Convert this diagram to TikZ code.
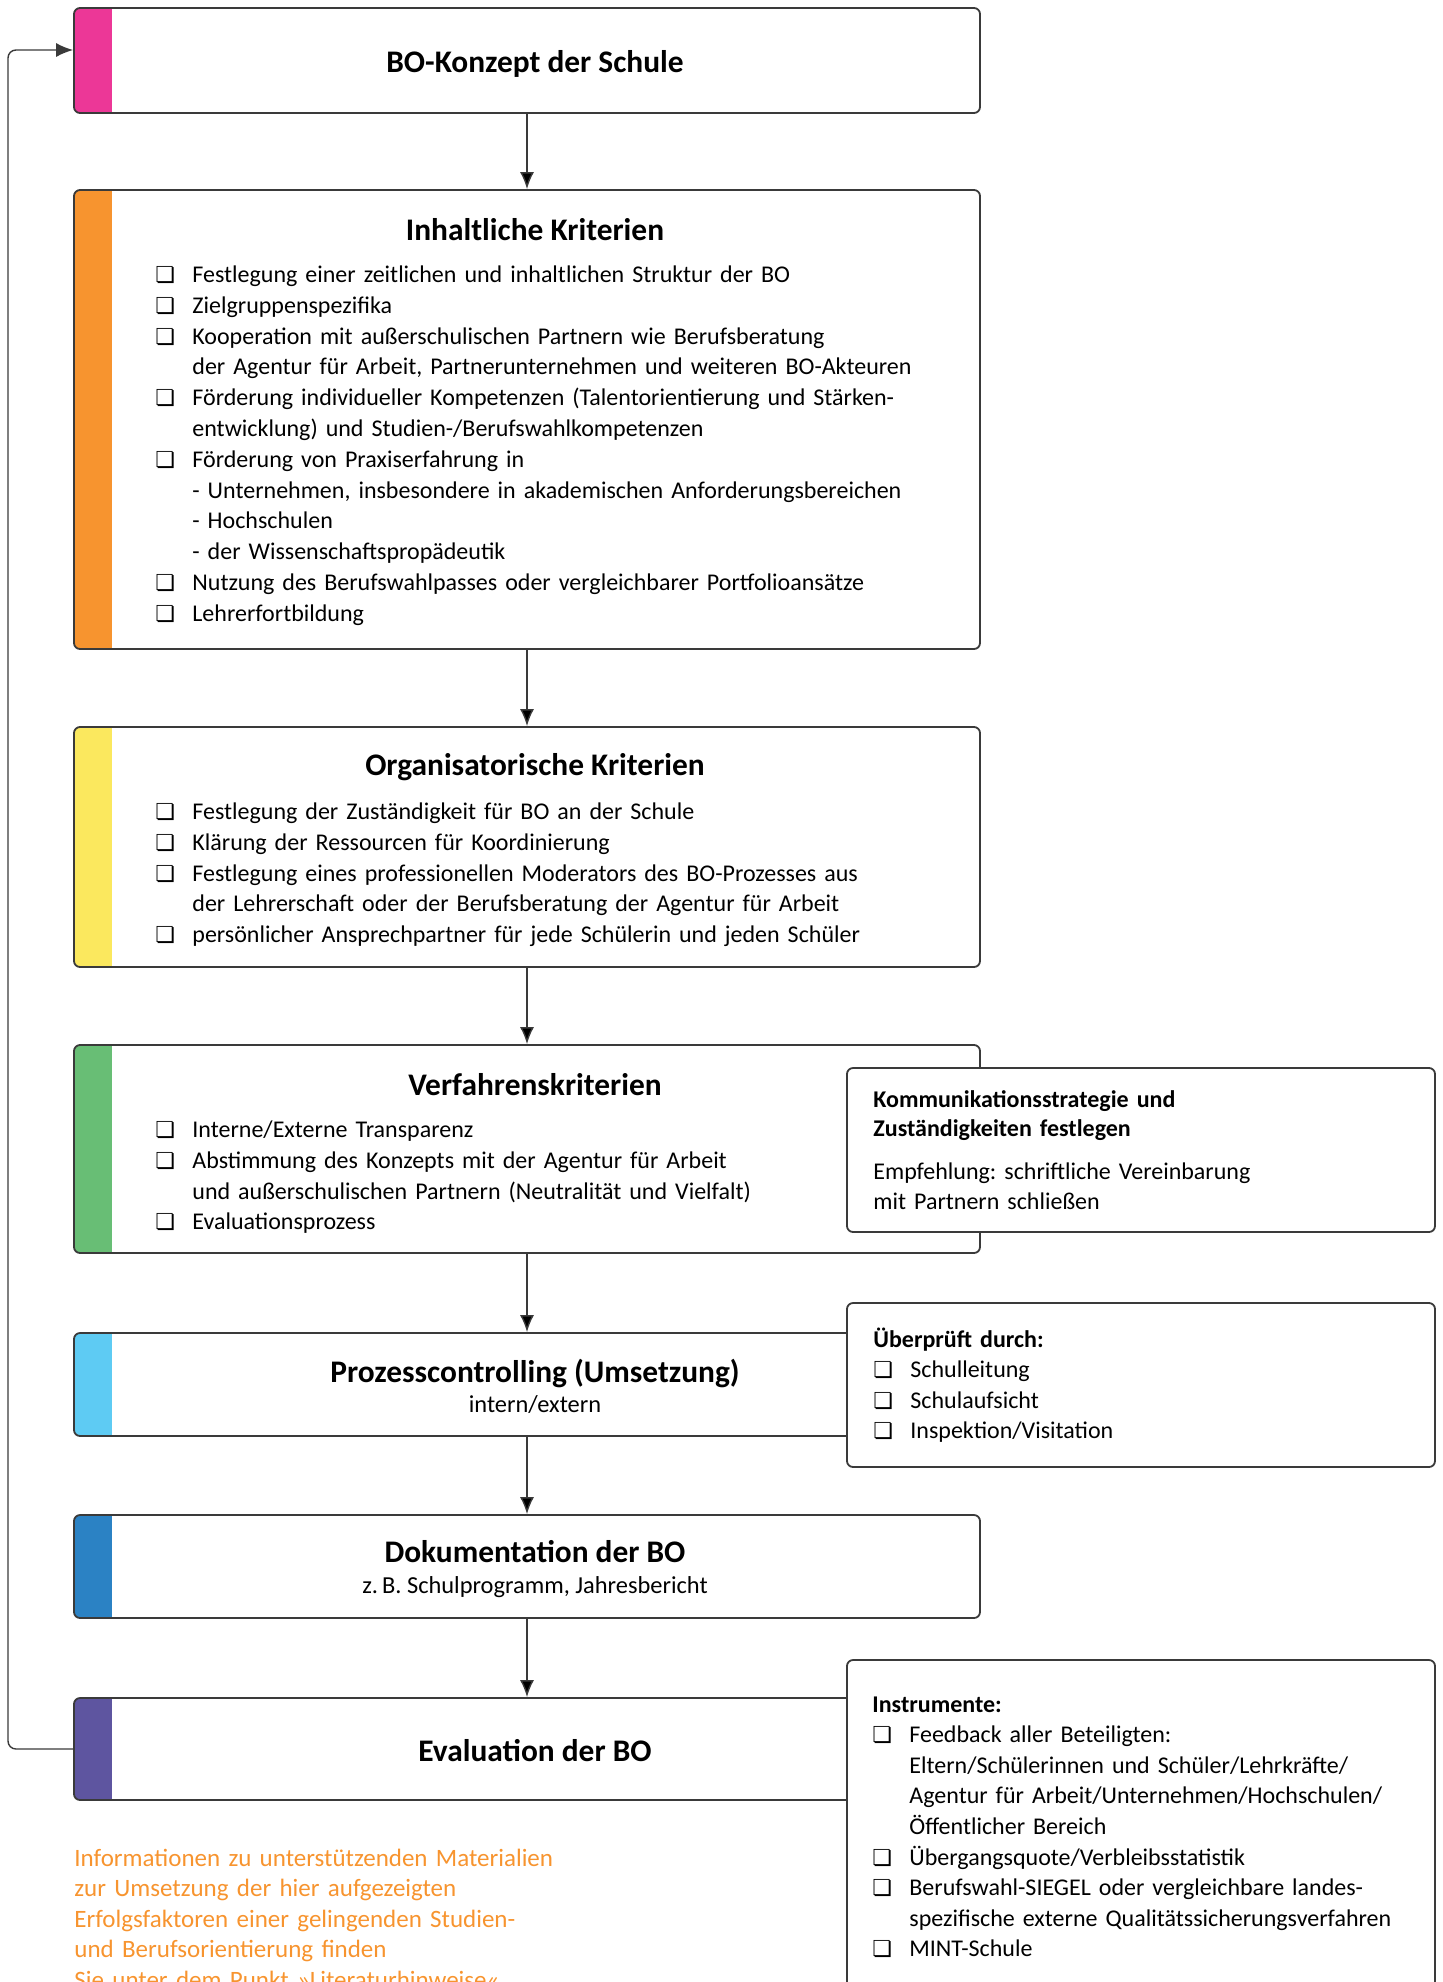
\documentclass[tikz,border=0pt]{standalone}
\usepackage{fontspec}
\setmainfont{Carlito}
\newfontfamily\symfont{DejaVu Sans}
\usepackage{tikz}
\usetikzlibrary{arrows.meta}

\definecolor{bopink}{HTML}{EC3797}
\definecolor{boorange}{HTML}{F7942F}
\definecolor{boyellow}{HTML}{FBE85E}
\definecolor{bogreen}{HTML}{68BE75}
\definecolor{bolightblue}{HTML}{5ECBF3}
\definecolor{boblue}{HTML}{2B82C4}
\definecolor{bopurple}{HTML}{5E55A0}
\definecolor{boline}{HTML}{3A3A3A}

\newcommand{\chk}{\makebox[18.5pt][l]{\symfont\fontsize{11}{11}\selectfont ❏}}
\newcommand{\ind}{\hspace*{18.5pt}}
\frenchspacing

\begin{document}
\begin{tikzpicture}[x=0.5pt, y=-0.5pt,
  mainbox/.style={draw=boline, line width=0.9pt, rounded corners=3pt,
    minimum width=453pt, inner sep=0pt,
    path picture={\fill[#1, sharp corners] (path picture bounding box.north west)
      rectangle ([xshift=19pt]path picture bounding box.south west);}},
  sidebox/.style={draw=boline, fill=white, line width=0.9pt, rounded corners=3pt,
    minimum width=294pt, inner sep=0pt},
  boxtitle/.style={anchor=base, inner sep=0pt, font=\bfseries\fontsize{15.7}{18}\selectfont},
  boxsub/.style={anchor=base, inner sep=0pt, font=\fontsize{12.2}{15}\selectfont},
  itemlist/.style={anchor=base west, inner sep=0pt, align=left, text width=445pt,
    font=\fontsize{12}{15.4}\selectfont},
  sidetext/.style={itemlist, text width=285pt, font=\fontsize{12}{15.3}\selectfont},
  flow/.style={->, >={Latex[length=8.5pt,width=7pt]}, line width=0.7pt, draw=boline}]

  \clip (0, 0) rectangle (1443, 1982);

  % main column
  \node[mainbox=bopink, minimum height=52.5pt] (b1) at (527, 60.5) {};
  \node[mainbox=boorange, minimum height=229.5pt] (b2) at (527, 419.5) {};
  \node[mainbox=boyellow, minimum height=120pt] (b3) at (527, 847) {};
  \node[mainbox=bogreen, minimum height=104pt] (b4) at (527, 1149) {};
  \node[mainbox=bolightblue, minimum height=51.5pt] (b5) at (527, 1384.5) {};
  \node[mainbox=boblue, minimum height=51.5pt] (b6) at (527, 1566.5) {};
  \node[mainbox=bopurple, minimum height=51pt] (b7) at (527, 1749) {};

  \node[boxtitle] (t1) at (535, 72) {BO-Konzept der Schule};

  \node[boxtitle] (t2) at (535, 240) {Inhaltliche Kriterien};
  \node[itemlist] (l2) at (155, 282.5) {%
    \chk Festlegung einer zeitlichen und inhaltlichen Struktur der BO\\
    \chk Zielgruppenspezifika\\
    \chk Kooperation mit außerschulischen Partnern wie Berufsberatung\\
    \ind der Agentur für Arbeit, Partnerunternehmen und weiteren BO-Akteuren\\
    \chk Förderung individueller Kompetenzen (Talentorientierung und Stärken-\\
    \ind entwicklung) und Studien-/Berufswahlkompetenzen\\
    \chk Förderung von Praxiserfahrung in\\
    \ind - Unternehmen, insbesondere in akademischen Anforderungsbereichen\\
    \ind - Hochschulen\\
    \ind - der Wissenschaftspropädeutik\\
    \chk Nutzung des Berufswahlpasses oder vergleichbarer Portfolioansätze\\
    \chk Lehrerfortbildung};

  \node[boxtitle] (t3) at (535, 775) {Organisatorische Kriterien};
  \node[itemlist] (l3) at (155, 819.5) {%
    \chk Festlegung der Zuständigkeit für BO an der Schule\\
    \chk Klärung der Ressourcen für Koordinierung\\
    \chk Festlegung eines professionellen Moderators des BO-Prozesses aus\\
    \ind der Lehrerschaft oder der Berufsberatung der Agentur für Arbeit\\
    \chk persönlicher Ansprechpartner für jede Schülerin und jeden Schüler};

  \node[boxtitle] (t4) at (535, 1095) {Verfahrenskriterien};
  \node[itemlist] (l4) at (155, 1137.5) {%
    \chk Interne/Externe Transparenz\\
    \chk Abstimmung des Konzepts mit der Agentur für Arbeit\\
    \ind und außerschulischen Partnern (Neutralität und Vielfalt)\\
    \chk Evaluationsprozess};

  \node[boxtitle] (t5) at (535, 1382) {Prozesscontrolling (Umsetzung)};
  \node[boxsub] (u5) at (535, 1412) {intern/extern};

  \node[boxtitle] (t6) at (535, 1562) {Dokumentation der BO};
  \node[boxsub] (u6) at (535, 1593) {z.\,B. Schulprogramm, Jahresbericht};

  \node[boxtitle] (t7) at (535, 1761) {Evaluation der BO};

  \node[itemlist, text=boorange, font=\fontsize{12.5}{15.3}\selectfont] (info) at (74, 1866) {%
    Informationen zu unterstützenden Materialien\\
    zur Umsetzung der hier aufgezeigten\\
    Erfolgsfaktoren einer gelingenden Studien-\\
    und Berufsorientierung finden\\
    Sie unter dem Punkt »Literaturhinweise«};

  % side notes
  \node[sidebox, minimum height=82pt] (s4) at (1141, 1150) {};
  \node[sidetext, font=\bfseries\fontsize{12}{14.5}\selectfont]
    (k1) at (873, 1107) {Kommunikationsstrategie und\\Zuständigkeiten festlegen};
  \node[sidetext] (k2) at (873, 1179) {Empfehlung: schriftliche Vereinbarung\\mit Partnern schließen};

  \node[sidebox, minimum height=82pt] (s5) at (1141, 1385) {};
  \node[sidetext] (k5) at (873, 1347) {%
    \textbf{Überprüft durch:}\\
    \chk Schulleitung\\
    \chk Schulaufsicht\\
    \chk Inspektion/Visitation};

  \node[sidebox, minimum height=180pt] (s7) at (1141, 1840) {};
  \node[sidetext] (k7) at (872, 1712) {%
    \textbf{Instrumente:}\\
    \chk Feedback aller Beteiligten:\\
    \ind Eltern/Schülerinnen und Schüler/Lehrkräfte/\\
    \ind Agentur für Arbeit/Unternehmen/Hochschulen/\\
    \ind Öffentlicher Bereich\\
    \chk Übergangsquote/Verbleibsstatistik\\
    \chk Berufswahl-SIEGEL oder vergleichbare landes-\\
    \ind spezifische externe Qualitätssicherungsverfahren\\
    \chk MINT-Schule};

  \coordinate (back) at (8, 50);

  \draw[flow]
    (b1) edge (b2)
    (b2) edge (b3)
    (b3) edge (b4)
    (b4) edge (b5)
    (b5) edge (b6)
    (b6) edge (b7);

  \draw[flow, rounded corners=4pt]
    (b7.west) -| (back) -- (back -| b1.west);
\end{tikzpicture}
\end{document}
